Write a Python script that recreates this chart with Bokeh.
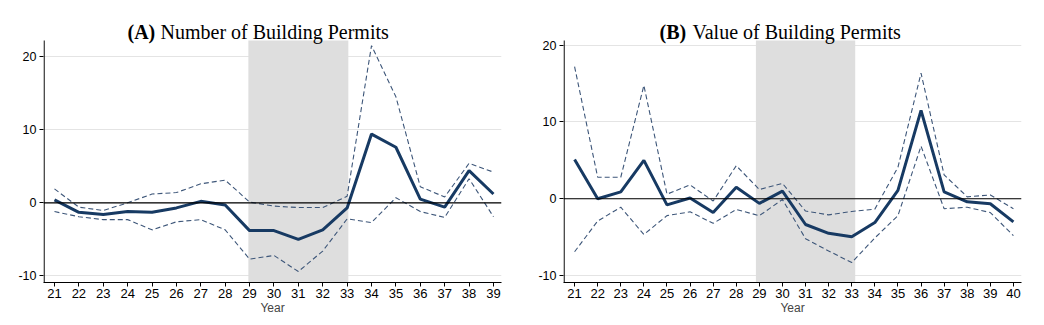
from bokeh.plotting import figure
from bokeh.layouts import row
from bokeh.models import FixedTicker, Span, Label, ColumnDataSource, Range1d
from bokeh.embed import file_html
from bokeh.resources import INLINE

# ---- Data ----
years_a = list(range(21, 40))
coef_a = [0.4, -1.3, -1.6, -1.2, -1.3, -0.7, 0.2, -0.3, -3.8, -3.8, -5.0, -3.7, -0.7,
          9.4, 7.6, 0.5, -0.6, 4.4, 1.2]
upper_a = [1.9, -0.6, -1.05, 0.0, 1.2, 1.4, 2.6, 3.1, 0.1, -0.45, -0.65, -0.65, 0.9,
           21.5, 14.5, 2.2, 0.8, 5.4, 4.2]
lower_a = [-1.2, -1.9, -2.3, -2.3, -3.7, -2.6, -2.3, -3.7, -7.7, -7.2, -9.4, -6.6, -2.2,
           -2.7, 0.7, -1.2, -2.0, 3.3, -1.9]

years_b = list(range(21, 41))
coef_b = [5.1, 0.0, 0.9, 5.0, -0.8, 0.1, -1.8, 1.5, -0.6, 1.0, -3.35, -4.5, -4.95,
          -3.1, 1.1, 11.5, 0.9, -0.4, -0.65, -3.0]
upper_b = [17.2, 2.8, 2.8, 14.75, 0.6, 1.8, -0.3, 4.3, 1.2, 2.0, -1.6, -2.1, -1.65,
           -1.35, 4.1, 16.35, 3.1, 0.25, 0.5, -1.3]
lower_b = [-6.9, -2.9, -1.1, -4.65, -2.2, -1.7, -3.2, -1.4, -2.2, -0.1, -5.2, -6.8, -8.3,
           -5.1, -2.2, 6.85, -1.3, -1.1, -1.8, -4.8]

y_ticks = [-10, 0, 10, 20]
shade_a = (28.95, 33.05)
shade_b = (28.85, 33.15)

NAVY = "#173a63"
DASH = "#3d5679"

H = 325
FRAME_LEFT = 43
FRAME_RIGHT = 501
PLOT_TOP = 40       # top of the data area (canvas px)
FRAME_BOTTOM = 282  # bottom of the frame (canvas px)


def make_panel(years, coef, upper, lower, shade, xr, yr, width, tag, name, tag_x, name_x):
    # frame reaches the top of the canvas so that the title texts can live inside it
    ppu = (FRAME_BOTTOM - PLOT_TOP) / (yr[1] - yr[0])
    y_top = yr[1] + PLOT_TOP / ppu
    ppx = (FRAME_RIGHT - FRAME_LEFT) / (xr[1] - xr[0])

    def dx(cx):
        return xr[0] + (cx - FRAME_LEFT) / ppx

    def dy(cy):
        return yr[0] + (FRAME_BOTTOM - cy) / ppu

    p = figure(width=width, height=H, x_range=Range1d(*xr), y_range=Range1d(yr[0], y_top),
               output_backend="svg", toolbar_location=None,
               min_border_left=FRAME_LEFT, min_border_right=width - FRAME_RIGHT,
               min_border_top=0, min_border_bottom=H - FRAME_BOTTOM)
    p.outline_line_color = None
    p.background_fill_color = "white"
    p.border_fill_color = "white"

    # shaded window
    p.quad(left=[shade[0]], right=[shade[1]], bottom=[yr[0]], top=[yr[1]],
           fill_color="#dedede", line_color=None)

    p.add_layout(Span(location=0, dimension="width", line_color="black", line_width=1.2))

    src = ColumnDataSource(dict(x=years, c=coef, u=upper, l=lower))
    p.line("x", "u", source=src, line_color=DASH, line_width=1.1, line_dash="5 3")
    p.line("x", "l", source=src, line_color=DASH, line_width=1.1, line_dash="5 3")
    p.line("x", "c", source=src, line_color=NAVY, line_width=3)

    # left axis line limited to the data area
    p.segment(x0=[dx(FRAME_LEFT + 0.6)], x1=[dx(FRAME_LEFT + 0.6)], y0=[yr[0]], y1=[yr[1]],
              line_color="black", line_width=1.2)

    # axes
    p.xaxis.ticker = FixedTicker(ticks=years)
    p.yaxis.ticker = FixedTicker(ticks=y_ticks)
    p.yaxis.major_label_overrides = {-10: "-10"}
    for ax in (p.xaxis[0], p.yaxis[0]):
        ax.axis_line_color = "black"
        ax.axis_line_width = 1.2
        ax.major_tick_line_color = "black"
        ax.major_tick_out = 4
        ax.major_tick_in = 0
        ax.minor_tick_line_color = None
        ax.major_label_text_font = "Liberation Sans"
        ax.major_label_text_color = "black"
    p.yaxis.axis_line_color = None
    p.xaxis.major_label_text_font_size = "13px"
    p.yaxis.major_label_text_font_size = "12.5px"
    p.xaxis.major_label_standoff = 2
    p.yaxis.major_label_standoff = 3
    p.xaxis.axis_label = "Year"
    p.xaxis.axis_label_text_font = "Liberation Sans"
    p.xaxis.axis_label_text_font_style = "normal"
    p.xaxis.axis_label_text_font_size = "12px"
    p.xaxis.axis_label_standoff = 0

    p.xgrid.grid_line_color = None
    p.ygrid.grid_line_color = "#e4e4e4"
    p.ygrid.grid_line_width = 1

    p.add_layout(Label(x=dx(tag_x), y=dy(31), text=tag,
                       text_font="Liberation Serif", text_font_style="bold",
                       text_font_size="20px", text_color="black",
                       text_baseline="alphabetic", text_align="left"))
    p.add_layout(Label(x=dx(name_x), y=dy(31), text=name,
                       text_font="Liberation Serif", text_font_style="normal",
                       text_font_size="20px", text_color="black",
                       text_baseline="alphabetic", text_align="left"))
    return p


pa = make_panel(years_a, coef_a, upper_a, lower_a, shade_a, (20.55, 39.33), (-10.9, 22.2),
                520, "(A)", "Number of Building Permits", 127, 160)
pb = make_panel(years_b, coef_b, upper_b, lower_b, shade_b, (20.52, 40.35), (-10.9, 20.6),
                524, "(B)", "Value of Building Permits", 139, 172)

layout = row(pa, pb)
open("out.html", "w").write(file_html(layout, INLINE))
